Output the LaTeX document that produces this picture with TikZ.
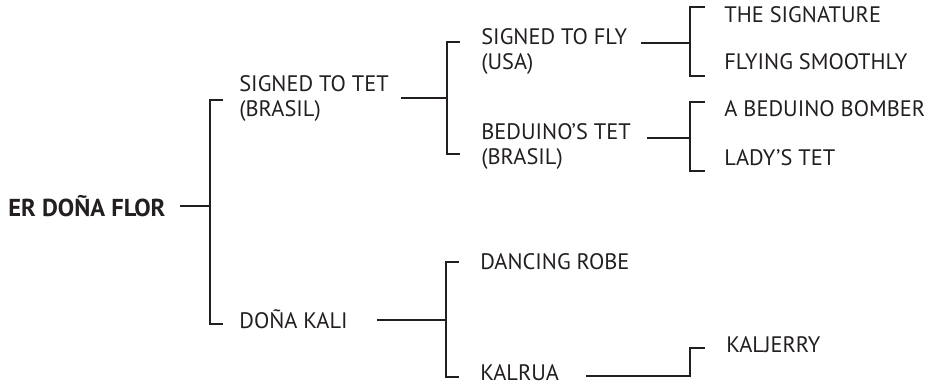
\documentclass[tikz,border=0pt]{standalone}
\usepackage{fontspec}
\setmainfont{PT Sans}
\usetikzlibrary{positioning}
\definecolor{ink}{RGB}{35,31,32}

\begin{document}
\begin{tikzpicture}[
   x = 1pt, y = -1pt,
   line width = 2.7pt,
   draw = ink,
   every node/.style = {anchor = west, inner sep = 0pt, align = left, text = ink,
                        font = \fontsize{22.4}{25}\selectfont},
   sire/.style = {font = \fontsize{24.5}{28}\selectfont\bfseries}]
   \useasboundingbox (0,0) rectangle (940,387);

   \node[sire] (flor) at (7,206) {ER DOÑA FLOR};
   \node (tet)      at (238,98.5)  {SIGNED TO TET\\(BRASIL)};
   \node (kali)     at (238,319)   {DOÑA KALI};
   \node (fly)      at (480,51.5)  {SIGNED TO FLY\\(USA)};
   \node (bed)      at (480,146.5) {BEDUINO’S TET\\(BRASIL)};
   \node (robe)     at (479,262)   {DANCING ROBE};
   \node (kalrua)   at (479,373)   {KALRUA};
   \node (sig)      at (723,15)    {THE SIGNATURE};
   \node (smooth)   at (723,62)    {FLYING SMOOTHLY};
   \node (bomber)   at (723,109)   {A BEDUINO BOMBER};
   \node (lady)     at (723,158)   {LADY’S TET};
   \node (kaljerry) at (725,345)   {KALJERRY};

   \coordinate (j1) at (210,206);
   \coordinate (j2) at (447,98);
   \coordinate (j3) at (690,43);
   \coordinate (j4) at (690,138);
   \coordinate (j5) at (446,320);
   \coordinate (j6) at (690,376);

   \coordinate (t1) at (223,100);  \coordinate (b1) at (223,324);
   \coordinate (t2) at (460,42);   \coordinate (b2) at (460,154);
   \coordinate (t3) at (705,7);    \coordinate (b3) at (705,76);
   \coordinate (t4) at (705,102);  \coordinate (b4) at (705,171);
   \coordinate (t5) at (459,262);  \coordinate (b5) at (459,377);
   \coordinate (t6) at (705,348);

   \draw (flor.east |- j1) ++(13,0) -- (j1);
   \draw (t1) -| (j1) |- (b1);

   \draw (tet.east |- j2) ++(11,0) -- (j2);
   \draw (t2) -| (j2) |- (b2);

   \draw (fly.east |- j3) ++(12,0) -- (j3);
   \draw (t3) -| (j3) |- (b3);

   \draw (bed.east |- j4) ++(15,0) -- (j4);
   \draw (t4) -| (j4) |- (b4);

   \draw (kali.east |- j5) ++(28,0) -- (j5);
   \draw (t5) -| (j5) |- (b5);

   \draw (kalrua.east |- j6) ++(26,0) -- (j6) |- (t6);
\end{tikzpicture}
\end{document}
